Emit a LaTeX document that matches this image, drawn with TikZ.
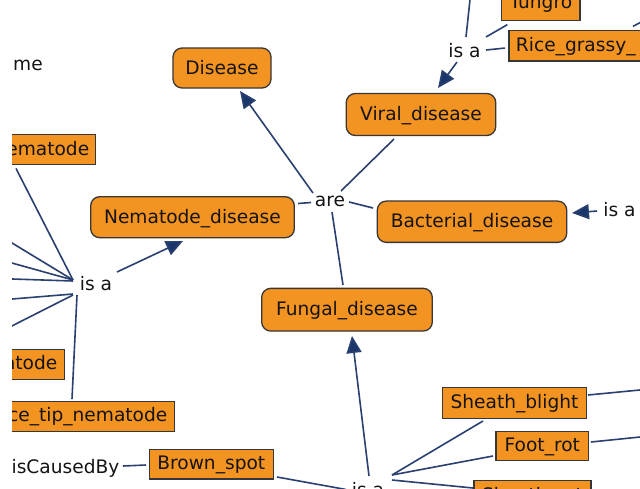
\documentclass[tikz,border=0pt]{standalone}
\usepackage{fontspec}
\setmainfont{DejaVu Sans}
\usetikzlibrary{arrows.meta}
\definecolor{nodeor}{RGB}{243,147,33}
\definecolor{nodebd}{RGB}{55,55,55}
\definecolor{edgec}{RGB}{42,64,112}
\definecolor{tipc}{RGB}{27,54,106}
\begin{document}
\begin{tikzpicture}[x=1pt,y=-1pt,
  every node/.style={font=\fontsize{18.6}{22}\selectfont, text=black!92},
  concept/.style={draw=nodebd, fill=nodeor, line width=1.3pt, rounded corners=9pt, inner sep=0pt, text height=14pt, text depth=1.5pt},
  leaf/.style={draw=nodebd, fill=nodeor, line width=1.3pt, inner xsep=7pt, inner ysep=0pt, minimum height=30pt, text height=14pt, text depth=3.4pt},
  phrase/.style={inner sep=2pt, text height=14pt, text depth=4pt},
  link/.style={draw=edgec, line width=1.6pt},
  arr/.style={link, -{Triangle[length=17pt,width=15pt,fill=tipc]}}
]
\fill[white] (0,0) rectangle (640,488);
\useasboundingbox (0,0) rectangle (640,488);
\begin{scope}
\clip (12,0) rectangle (640,488);
% concepts
\node[concept, minimum width=98pt, minimum height=40pt] (dis) at (222,68) {Disease};
\node[concept, minimum width=149.5pt, minimum height=42pt] (vir) at (421,114.5) {Viral\_disease};
\node[concept, minimum width=203.6pt, minimum height=41pt] (nem) at (192.5,217.2) {Nematode\_disease};
\node[concept, minimum width=189.4pt, minimum height=41.3pt] (bac) at (472,221.7) {Bacterial\_disease};
\node[concept, minimum width=170.6pt, minimum height=42.7pt] (fun) at (347,309.7) {Fungal\_disease};
% leaves
\node[leaf, text width=82pt, align=right, anchor=east] (ema) at (96,149.8) {ematode};
\node[leaf, text width=60pt, align=right, anchor=east] (ato) at (65,364.3) {atode};
\node[leaf, text width=170pt, align=right, anchor=east] (cetip) at (175,416.2) {ce\_tip\_nematode};
\node[leaf, minimum width=124pt, minimum height=29.7pt] (bs) at (211.3,464.2) {Brown\_spot};
\node[leaf, minimum width=144.4pt, minimum height=30.6pt] (sb) at (514.5,403) {Sheath\_blight};
\node[leaf, minimum width=92.7pt, minimum height=29pt] (fr) at (542.3,446.2) {Foot\_rot};
\node[leaf, minimum width=117pt] (sr) at (532.5,495.7) {Sheath\_rot};
\node[leaf, minimum width=78.3pt, text depth=9.4pt] (tun) at (540.85,5.7) {Tungro};
\node[leaf, text width=140pt, align=left, anchor=west, minimum height=30.3pt] (rice) at (508.3,45.85) {Rice\_grassy\_};
% linking phrases
\node[phrase] (are) at (330,201.7) {are};
\node[phrase] (isa1) at (96,285) {is a};
\node[phrase] (isa2) at (464.5,52.3) {is a};
\node[phrase] (isa3) at (619.5,211) {is a};
\node[phrase] (isa4) at (368,491.5) {is a};
\node[phrase] (icb) at (65.5,468.3) {isCausedBy};
\node[phrase, anchor=east] (hn) at (45,65) {me};
% free ends
\coordinate (o1) at (0,235.7);
\coordinate (o2) at (0,259.7);
\coordinate (o3) at (0,278.6);
\coordinate (o4) at (0,300);
\coordinate (o5) at (0,332);
\coordinate (o6) at (645,389.5);
\coordinate (o7) at (645,436.5);
\coordinate (o8) at (470.5,-5);
\coordinate (o9) at (645,20);
% connectors
\draw[arr] ([shift={(-17,-8.7)}]are.center) -- ([shift={(18,23)}]dis.center);
\draw[link] ([shift={(105.5,-13.7)}]nem.center) -- ([shift={(-19,0.8)}]are.center);
\draw[link] ([shift={(-27,24.5)}]vir.center) -- ([shift={(11,-10.7)}]are.center);
\draw[link] ([shift={(19,0.3)}]are.center) -- ([shift={(-99,-13.7)}]bac.center);
\draw[link] ([shift={(2,10.3)}]are.center) -- ([shift={(-4,-24.7)}]fun.center);
\draw[arr] ([shift={(21,-13)}]isa1.center) -- ([shift={(-9.5,23.8)}]nem.center);
\draw[link] ([shift={(-80,3)}]ema.south east) -- ([shift={(-23,-5)}]isa1.center);
\draw[link] ([shift={(-23,-5)}]isa1.center) -- (o1);
\draw[link] ([shift={(-23,-5)}]isa1.center) -- (o2);
\draw[link] ([shift={(-23,-4)}]isa1.center) -- (o3);
\draw[link] ([shift={(-23,9)}]isa1.center) -- (o4);
\draw[link] ([shift={(-23,10)}]isa1.center) -- (o5);
\draw[link] ([shift={(-19,10)}]isa1.center) -- ([shift={(-103,-1.5)}]cetip.north east);
\draw[arr] ([shift={(1,-15.5)}]isa4.center) -- ([shift={(5,26.3)}]fun.center);
\draw[link] ([shift={(24,-16.5)}]isa4.center) -- ([shift={(-31.5,18)}]sb.center);
\draw[link] ([shift={(24,-16.5)}]isa4.center) -- ([shift={(-49.3,9.8)}]fr.center);
\draw[link] ([shift={(24,-11.5)}]isa4.center) -- ([shift={(-59.5,-7.7)}]sr.center);
\draw[link] ([shift={(65.7,12.8)}]bs.center) -- ([shift={(-22,-2)}]isa4.center);
\draw[link] ([shift={(57.5,-2.3)}]icb.center) -- ([shift={(-65.3,0.8)}]bs.center);
\draw[link] ([shift={(73.5,-8)}]sb.center) -- (o6);
\draw[link] ([shift={(48.7,-4.2)}]fr.center) -- (o7);
\draw[arr] ([shift={(-7.5,9.7)}]isa2.center) -- ([shift={(17,-26.5)}]vir.center);
\draw[link] ([shift={(1.5,-15.3)}]isa2.center) -- (o8);
\draw[link] ([shift={(6.3,3.3)}]tun.south west) -- ([shift={(21.5,-15.3)}]isa2.center);
\draw[link] ([shift={(-3.3,2.2)}]rice.west) -- ([shift={(21.5,-2.3)}]isa2.center);
\draw[link] ([shift={(124.7,-3.7)}]rice.north west) -- (o9);
\draw[arr] ([shift={(-22.5,0)}]isa3.center) -- ([shift={(100,-8.7)}]bac.center);
\end{scope}
\end{tikzpicture}
\end{document}
